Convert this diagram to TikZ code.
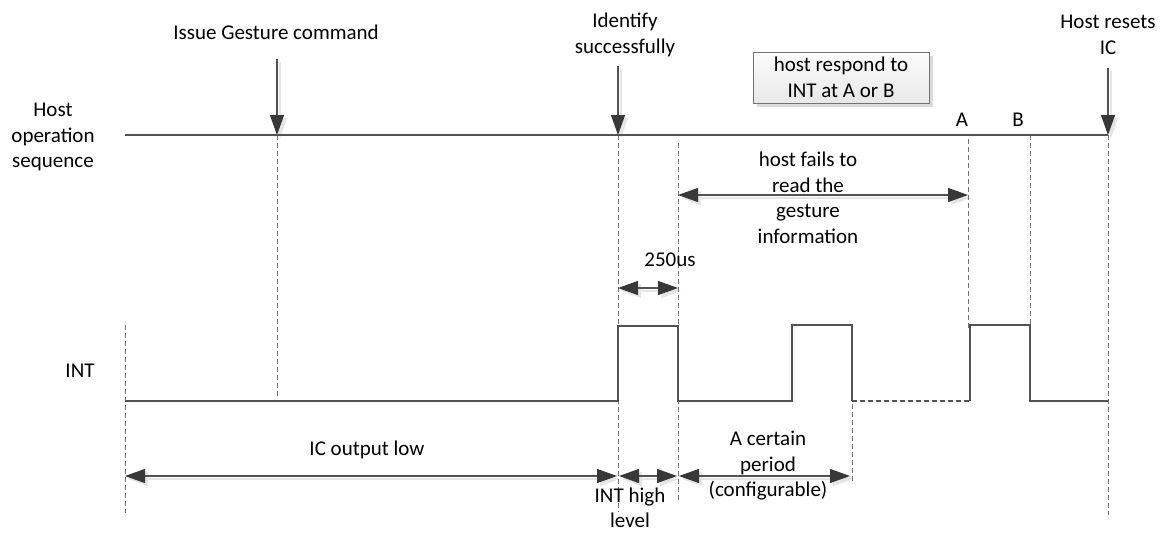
\documentclass[tikz,border=0pt]{standalone}
\usepackage{fontspec}
\setmainfont{Carlito}
\usetikzlibrary{arrows.meta,shadows}
\tikzset{
  lbl/.style={font=\fontsize{21}{25.5}\selectfont, align=center, inner sep=0pt, text=black},
  sig/.style={draw=black!68, line width=1.3pt},
  sigdash/.style={draw=black!68, line width=1.3pt, dash pattern=on 5pt off 3pt},
  guide/.style={draw=black!55, line width=0.9pt, dash pattern=on 5pt off 3pt},
  tip/.tip={Triangle[length=20pt,width=14pt,color=black!78]},
  shtip/.tip={Triangle[length=20pt,width=14pt,color=black!10]},
  arr/.style={draw=black!68, line width=1.2pt, -tip},
  darr/.style={draw=black!68, line width=1.2pt, tip-tip},
  sharr/.style={draw=black!10, line width=1.2pt, -shtip, transform canvas={shift={(3pt,-3pt)}}},
  shdarr/.style={draw=black!10, line width=1.2pt, shtip-shtip, transform canvas={shift={(3pt,-3pt)}}},
  respbox/.style={draw=black!55, line width=0.9pt, top color=black!1, bottom color=black!9,
    minimum width=176pt, minimum height=51pt, inner sep=0pt,
    drop shadow={shadow xshift=4pt, shadow yshift=-4pt, fill=black!14, opacity=1},
    font=\fontsize{21}{25.5}\selectfont, align=center},
}
\begin{document}
\begin{tikzpicture}[x=1pt,y=-1pt]
\useasboundingbox (0,0) rectangle (1160,533);

% key coordinates
\coordinate (hL) at (125,135);
\coordinate (hR) at (1108,135);
\coordinate (tIss) at (277,59);   \coordinate (hIss) at (277,135);
\coordinate (tIdn) at (618,66);   \coordinate (hIdn) at (618,135);
\coordinate (tRst) at (1108,68);  \coordinate (hRst) at (1108,135);

% guide (dashed) lines
\coordinate (g0a) at (125,325);  \coordinate (g0b) at (125,513);
\coordinate (g1b) at (277,398);
\coordinate (g2b) at (618,512);
\coordinate (g3a) at (678,143);  \coordinate (g3b) at (678,502);
\coordinate (g4a) at (852,380);  \coordinate (g4b) at (852,482);
\coordinate (g5a) at (968,139);  \coordinate (g5b) at (968,328);
\coordinate (g6a) at (1030,135); \coordinate (g6b) at (1030,328);
\coordinate (g7b) at (1108,515);

% dimension arrow coordinates
\coordinate (d250a) at (618,288); \coordinate (d250b) at (678,288);
\coordinate (dfa) at (678,195);   \coordinate (dfb) at (968,195);
\coordinate (dla) at (125,476);   \coordinate (dlb) at (617,476);
\coordinate (dha) at (619,476);   \coordinate (dhb) at (677,476);
\coordinate (dpa) at (679,476);   \coordinate (dpb) at (850,476);

% shadows of arrows
\draw[sharr] (tIss) -- (hIss);
\draw[sharr] (tIdn) -- (hIdn);
\draw[sharr] (tRst) -- (hRst);
\draw[shdarr] (d250a) -- (d250b);
\draw[shdarr] (dfa) -- (dfb);
\draw[shdarr] (dla) -- (dlb);
\draw[shdarr] (dha) -- (dhb);
\draw[shdarr] (dpa) -- (dpb);

\draw[guide] (g0a) -- (g0b);
\draw[guide] (hIss) -- (g1b);
\draw[guide] (hIdn) -- (g2b);
\draw[guide] (g3a) -- (g3b);
\draw[guide] (g4a) -- (g4b);
\draw[guide] (g5a) -- (g5b);
\draw[guide] (g6a) -- (g6b);
\draw[guide] (hRst) -- (g7b);

% host line and event arrows
\draw[sig] (hL) -- (hR);
\draw[arr] (tIss) -- (hIss);
\draw[arr] (tIdn) -- (hIdn);
\draw[arr] (tRst) -- (hRst);

% INT waveform
\coordinate (w0) at (125,401);
\coordinate (w1) at (618,401);
\coordinate (w2) at (618,326);
\coordinate (w3) at (678,326);
\coordinate (w4) at (678,401);
\coordinate (w5) at (792,401);
\coordinate (w6) at (792,325);
\coordinate (w7) at (852,325);
\coordinate (w8) at (852,401);
\coordinate (w9) at (970,401);
\coordinate (w10) at (970,325);
\coordinate (w11) at (1030,325);
\coordinate (w12) at (1030,401);
\coordinate (w13) at (1108,401);
\draw[sig] (w0) -- (w1) -- (w2) -- (w3) -- (w4) -- (w5) -- (w6) -- (w7) -- (w8);
\draw[sigdash] (w8) -- (w9);
\draw[sig] (w9) -- (w10) -- (w11) -- (w12) -- (w13);

% dimension arrows
\draw[darr] (d250a) -- (d250b);
\draw[darr] (dfa) -- (dfb);
\draw[darr] (dla) -- (dlb);
\draw[darr] (dha) -- (dhb);
\draw[darr] (dpa) -- (dpb);

% labels
\node[lbl] (issue) at (276,32) {Issue Gesture command};
\node[lbl] (ident) at (625,35) {Identify\\successfully};
\node[lbl] (resets) at (1108,35) {Host resets\\IC};
\node[lbl] (hostop) at (53,137) {Host\\operation\\sequence};
\node[lbl] (intl) at (80,371) {INT};
\node[respbox] (resp) at (841,77.5) {host respond to\\INT at A or B};
\node[lbl] (la) at (962,120) {A};
\node[lbl] (lb) at (1018,120) {B};
\node[lbl] (fails) at (808,198) {host fails to\\read the\\gesture\\information};
\node[lbl] (us) at (670,260) {250us};
\node[lbl] (icout) at (367,450) {IC output low};
\node[lbl] (inth) at (630,508) {INT high\\level};
\node[lbl] (period) at (768,466) {A certain\\period\\(configurable)};
\end{tikzpicture}
\end{document}
